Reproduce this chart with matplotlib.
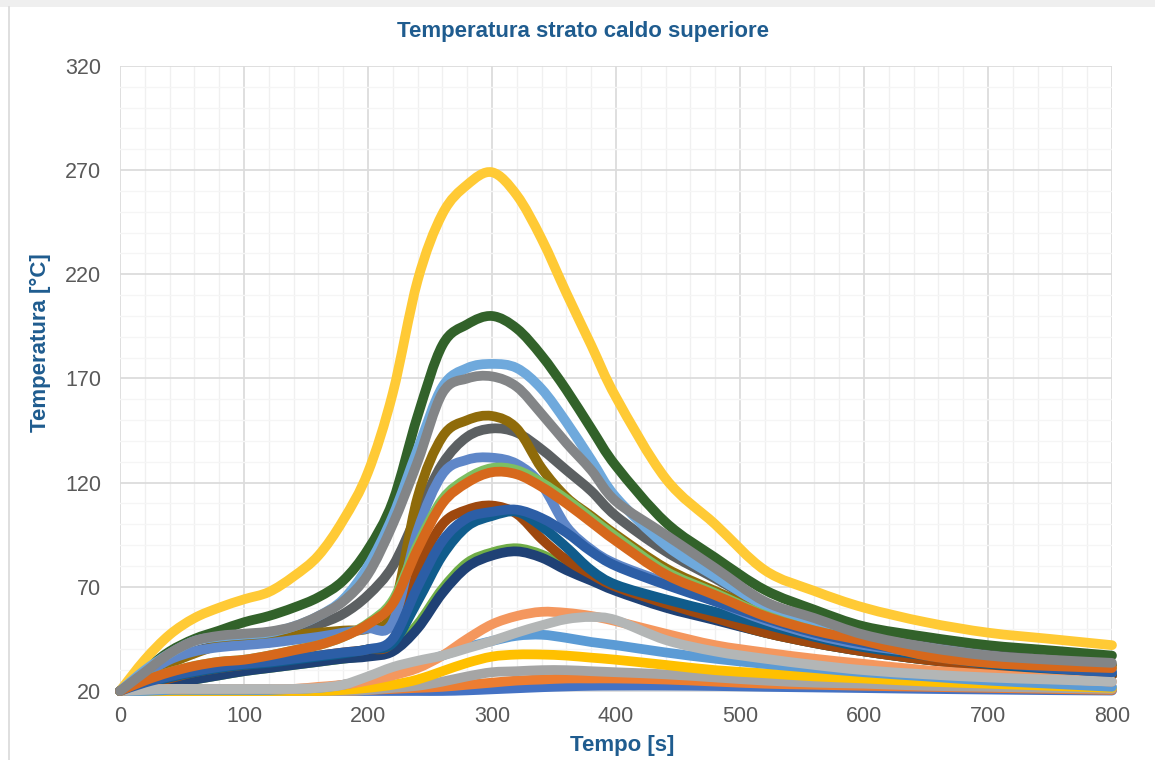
import matplotlib
matplotlib.use("Agg")
import matplotlib.pyplot as plt
from matplotlib.ticker import MultipleLocator
from matplotlib.lines import Line2D
from matplotlib.path import Path
from matplotlib.patches import PathPatch

# ---------------- data ----------------
tempo = [0, 20, 40, 60, 80, 100, 120, 140, 160, 180, 200, 220, 240, 260, 280,
         300, 320, 340, 360, 380, 400, 440, 480, 520, 560, 600, 650, 700, 750, 800]

s01 = [20, 20, 20, 20, 20, 20, 20, 20, 20, 20, 20, 20, 20, 20, 20.3, 20.8, 21.3, 21.8,
       22.2, 22.5, 22.6, 22.6, 22.4, 22.0, 21.7, 21.4, 21.0, 20.7, 20.4, 20.2]
s02 = [20, 20, 20, 20, 20, 20, 20, 20, 20, 20, 20.5, 21, 21.5, 22, 23, 24, 25, 25.5,
       26, 26, 26, 25.5, 24.5, 23.5, 23, 22.5, 22, 21.5, 21, 20.5]
s03 = [20, 20, 20, 20, 20, 20, 20, 20, 20, 20, 20.5, 21.5, 22.5, 24.5, 27, 29, 29.5, 30,
       30, 29.5, 29, 28, 26.5, 25, 24, 23.5, 22.5, 22, 21.5, 21]
s04 = [20, 20, 20, 20, 20, 20, 20, 20, 20, 20.5, 21.5, 23, 25.5, 29.5, 33.5, 36.5, 37.5,
       37.5, 37, 36, 35, 32.5, 30, 28.5, 27, 26, 24.5, 23.5, 22.5, 21.5]
s05 = [20, 20, 20.5, 20.5, 20.5, 20.5, 20.5, 21, 21.5, 23, 25.5, 29, 33, 37, 41, 44, 46.5,
       47, 45.5, 43.5, 42, 38.5, 35.5, 33, 31, 29, 27, 25, 23.5, 22]
s06 = [20, 21.5, 23.5, 25.5, 27.5, 29.5, 31, 32.5, 34, 35.5, 37, 40, 52, 69, 81.5, 86.5,
       88.5, 85.5, 79.5, 74.5, 69, 61, 54.5, 48, 43, 39, 35, 32, 29.5, 27.5]
s07 = [20, 21.5, 23.5, 25.5, 27.5, 29.5, 31, 32.5, 34, 35.5, 36.5, 39, 50, 67, 79.5, 85,
       87, 84, 78, 73, 68, 60, 54, 48, 43, 39, 35, 32, 29.5, 27.5]
s08 = [20, 22.5, 26, 29, 31, 32.5, 34, 35.5, 37, 38.5, 40, 44, 78, 100, 107, 109, 105, 93,
       83, 76, 70, 62, 55, 48, 43, 39, 35, 32, 29.5, 27.5]
s09 = [20, 27, 34, 39, 42, 44, 46, 48.5, 52, 57, 66, 80, 105, 129, 142, 146, 144, 136,
       126, 116, 104, 87, 74, 61, 53, 47, 42, 38, 35, 32.5]
s10 = [20, 26, 33, 38, 42, 44, 46, 47, 48, 49, 50, 58, 113, 142, 150, 152, 146, 127, 113,
       104, 95, 79, 68, 58, 51, 46, 41, 37, 34, 32]
s11 = [20, 23.5, 26.5, 29, 31, 32.5, 33.5, 35, 36.5, 38, 40, 43, 63, 85, 99, 104, 106, 99,
       89, 78, 71, 64, 58, 52, 46, 41, 37, 33, 30.5, 28.5]
s12 = [20, 30, 39, 45, 49, 53, 56, 60, 65, 73, 88, 111, 152, 186, 196, 200, 194, 181,
       164.5, 146, 128, 101, 84, 68.5, 59, 51, 46, 42, 39.5, 37]
s13 = [20, 28, 35, 39, 41, 42, 43, 44.5, 46, 48, 50, 53, 97, 124, 131, 132, 129, 119, 99,
       88, 81, 72, 63, 54, 47, 42, 38, 34, 31.5, 29]
s14 = [20, 21, 21, 21, 21, 21, 21, 21, 22, 23, 25, 27.5, 31, 37, 45, 52, 56, 58, 57.5, 56,
       53.5, 47.5, 42, 38.5, 35.5, 33, 30, 28, 26, 24.5]
s15 = [20, 20.5, 21, 21, 21, 21, 21, 21, 21.5, 23, 27, 31.5, 34.5, 37, 40.5, 44, 48, 51.5,
       54.5, 55.5, 54, 44.5, 39, 35.5, 32.5, 30, 28, 26.5, 25.5, 24.5]
s16 = [20, 35, 47, 55, 60, 64, 67.5, 75, 85, 102, 125, 163, 217, 249, 263, 269, 258, 237,
       211, 186, 161, 122, 100, 78, 68, 60, 53, 48, 45, 42]
s17 = [20, 30, 38, 44, 46, 47, 48, 51, 56, 64, 80, 104, 136, 166, 175, 177, 175, 165, 149,
       131, 113, 90, 75, 61, 52, 46, 41, 37, 34, 31]
s18 = [20, 25, 29, 32, 34, 35, 37, 39.5, 42, 46, 52.5, 63.5, 90, 112, 122, 127, 126, 120,
       112, 103, 94, 77.5, 67, 56.5, 49, 44, 38, 34, 32, 31]
s19 = [20, 24, 27, 29.5, 31.5, 33, 34, 35.5, 37, 38.5, 40, 45, 70, 92, 103, 106, 107, 103,
       96, 87, 80, 71, 63, 55, 48, 43, 38, 34, 31, 29]
s20 = [20, 25, 29, 32, 34, 35, 37, 39.5, 42, 46, 52, 62, 88, 110, 120, 125, 124, 118, 110,
       101, 92, 76, 66, 56, 49, 44, 37, 33.5, 32, 31]
s21 = [20, 29, 38, 44, 46.5, 47.5, 48.5, 51, 56, 63, 76, 100, 130, 163, 170, 171, 166, 153,
       139, 126, 111, 95, 79, 63, 55, 47, 41, 37, 35, 33.5]

series = [s01, s02, s03, s04, s05, s06, s07, s08, s09, s10, s11, s12, s13, s14, s15,
          s16, s17, s18, s19, s20, s21]
colors = ["#4472C4", "#ED7D31", "#A5A5A5", "#FFC000", "#5B9BD5", "#70AD47",
          "#1F4175", "#9E480E", "#5C6062", "#8F6B0A", "#105C8C", "#32622A",
          "#5F87C8", "#F4975E", "#B3B6B6", "#FFCA35", "#6FA9DC", "#7DBF62",
          "#2C5EA6", "#D6681C", "#838587"]

title_txt = "Temperatura strato caldo superiore"
xlabel_txt = "Tempo [s]"
ylabel_txt = "Temperatura [°C]"
yticks = [20, 70, 120, 170, 220, 270, 320]
xticks = [0, 100, 200, 300, 400, 500, 600, 700, 800]


def smooth_path(x, y):
    """Excel-style smoothed line: cubic Bezier segments through the data points."""
    n = len(x)
    verts = [(x[0], y[0])]
    codes = [Path.MOVETO]
    for i in range(n - 1):
        xa, ya = (x[i - 1], y[i - 1]) if i > 0 else (x[i], y[i])
        xd, yd = (x[i + 2], y[i + 2]) if i + 2 < n else (x[i + 1], y[i + 1])
        c1 = (x[i] + (x[i + 1] - xa) / 6.0, y[i] + (y[i + 1] - ya) / 6.0)
        c2 = (x[i + 1] - (xd - x[i]) / 6.0, y[i + 1] - (yd - y[i]) / 6.0)
        verts += [c1, c2, (x[i + 1], y[i + 1])]
        codes += [Path.CURVE4] * 3
    return Path(verts, codes)


# ---------------- figure ----------------
plt.rcParams['font.family'] = ['Liberation Sans', 'DejaVu Sans']
W, H = 1155, 760
fig = plt.figure(figsize=(W / 100, H / 100), dpi=100)
fig.patch.set_facecolor("white")

fig.add_artist(plt.Rectangle((0, 1 - 7 / H), 1, 7 / H, transform=fig.transFigure,
                             facecolor="#EFEFEF", edgecolor="none"))
fig.add_artist(Line2D([8.5 / W, 8.5 / W], [0, 1 - 7 / H], transform=fig.transFigure,
                      color="#D9D9D9", lw=1.2))

ax = fig.add_axes([120 / W, 1 - 691 / H, (1112 - 120) / W, (691 - 66) / H])
ax.set_xlim(0, 800)
ax.set_ylim(20, 320)

for s, c in zip(series, colors):
    patch = PathPatch(smooth_path(tempo, s), facecolor="none", edgecolor=c, lw=7.0,
                      capstyle="round", joinstyle="round", clip_on=False, zorder=3)
    ax.add_patch(patch)

ax.set_xticks(xticks)
ax.set_yticks(yticks)
ax.xaxis.set_minor_locator(MultipleLocator(20))
ax.yaxis.set_minor_locator(MultipleLocator(10))
ax.grid(True, which="major", color="#DCDCDC", lw=1.3, zorder=0)
ax.grid(True, which="minor", axis="x", color="#F0F0F0", lw=1.0, zorder=0)
ax.grid(True, which="minor", axis="y", color="#F5F5F5", lw=1.0, zorder=0)
ax.set_axisbelow(True)
for sp in ["top", "right", "left"]:
    ax.spines[sp].set_visible(False)
ax.spines["bottom"].set_color("#D9D9D9")
ax.spines["bottom"].set_linewidth(1.2)
ax.tick_params(which="both", length=0)
ax.tick_params(axis="both", labelsize=15.5, labelcolor="#595959")
ax.tick_params(axis="y", pad=13.5)
ax.tick_params(axis="x", pad=11)

blue = "#1F5C8F"
fig.text(583 / W, 1 - 32 / H, title_txt, ha="center", va="center", fontsize=16,
         fontweight="bold", color=blue)
fig.text(40 / W, 1 - 343 / H, ylabel_txt, ha="center", va="center", rotation=90,
         fontsize=16, fontweight="bold", color=blue)
fig.text(622 / W, 1 - 746 / H, xlabel_txt, ha="center", va="center", fontsize=16,
         fontweight="bold", color=blue)

fig.savefig("out.png", dpi=100, facecolor="white")
